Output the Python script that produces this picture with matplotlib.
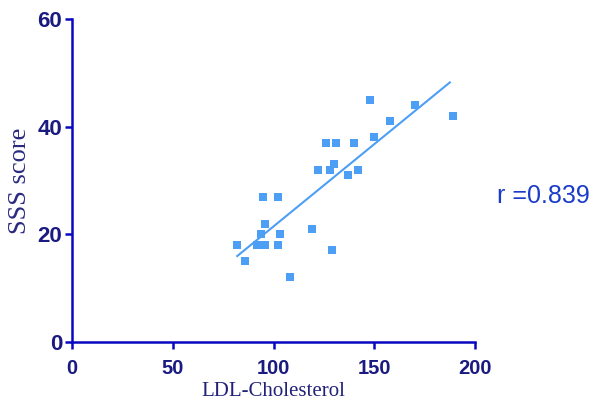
import numpy as np
import matplotlib.pyplot as plt

# LDL-Cholesterol vs SSS score
ldl = [82, 86, 92, 96, 94, 96, 95, 102, 102, 103, 108, 119, 122, 126,
       128, 130, 131, 129, 137, 140, 142, 148, 150, 158, 170, 189]
sss = [18, 15, 18, 18, 20, 22, 27, 27, 18, 20, 12, 21, 32, 37,
       32, 33, 37, 17, 31, 37, 32, 45, 38, 41, 44, 42]
xticks = [0, 50, 100, 150, 200]
yticks = [0, 20, 40, 60]
r_label = "r =0.839"

axis_col = '#0808c0'
tick_col = '#1a1a80'
pt_col = '#4d9ef5'

fig = plt.figure(figsize=(5.94, 4.18), dpi=100)
ax = fig.add_axes([0.1212, 0.1818, 0.6785, 0.7727])

x = np.array(ldl, float)
y = np.array(sss, float)
ax.plot(x, y, 's', color=pt_col, markersize=5.8, markeredgewidth=0)

# least squares fit over the data range
k, b = np.polyfit(x, y, 1)
fx = np.array([x.min(), x.max() - 1.5])
ax.plot(fx, k * fx + b, '-', color=pt_col, linewidth=1.5)

ax.set_xlim(0, 200)
ax.set_ylim(0, 60)
ax.set_xticks(xticks)
ax.set_yticks(yticks)
for s in ['top', 'right']:
    ax.spines[s].set_visible(False)
for s in ['left', 'bottom']:
    ax.spines[s].set_color(axis_col)
    ax.spines[s].set_linewidth(1.8)
    ax.spines[s].set_clip_on(False)
ax.tick_params(direction='out', length=5, width=1.8, color=axis_col)
ax.tick_params(axis='x', pad=7)
ax.tick_params(axis='y', pad=2)
for lab in ax.get_xticklabels():
    lab.set(family='Liberation Sans', weight='bold', size=14.5, color=tick_col)
for lab in ax.get_yticklabels():
    lab.set(family='Liberation Sans', weight='bold', size=16, color=tick_col)

ax.set_xlabel('LDL-Cholesterol', family='Liberation Serif', size=15,
              color='#22227a', labelpad=3)
ax.set_ylabel('SSS score', family='Liberation Serif', size=19,
              color='#2a2a80', labelpad=5)

fig.text(497 / 594, 1 - 196 / 418, r_label, family='Liberation Sans',
         size=18, color='#1a3cc8', va='center', ha='left')

fig.savefig('out.png', dpi=100)
